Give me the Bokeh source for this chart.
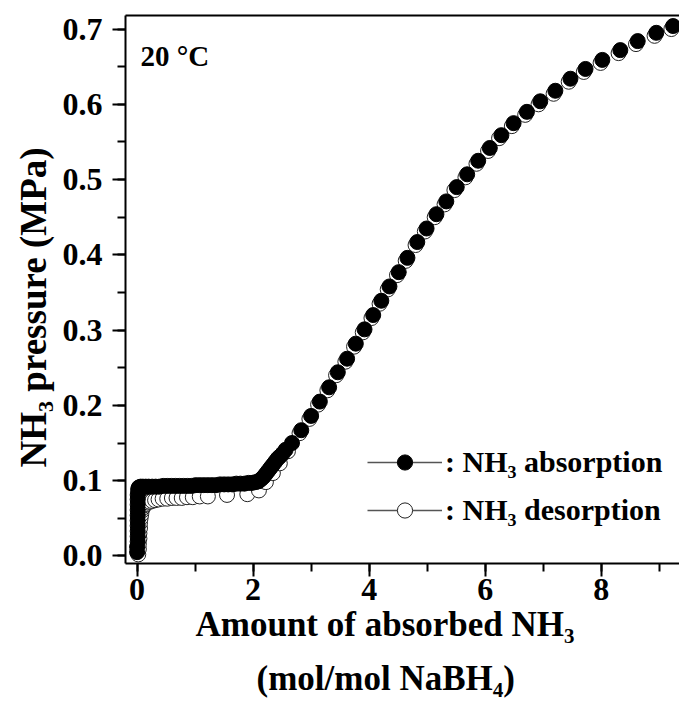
from bokeh.plotting import figure
from bokeh.models import (Range1d, LinearAxis, SingleIntervalTicker, FixedTicker,
                          PrintfTickFormatter, Label, Legend, LegendItem, Title)
from bokeh.embed import file_html
from bokeh.resources import INLINE

# ---------------- data ----------------
abs_x = [0.00, 0.00, 0.01, 0.01, 0.01, 0.01, 0.01, 0.01, 0.01, 0.01, 0.01, 0.01, 0.02, 0.02, 0.03,
         0.06, 0.10, 0.15, 0.20, 0.26, 0.32, 0.38, 0.45, 0.52, 0.59,
         0.66, 0.73, 0.80, 0.87, 0.94, 1.01, 1.08, 1.15, 1.22, 1.29,
         1.36, 1.43, 1.50, 1.57, 1.64, 1.71, 1.78, 1.85, 1.92, 1.98, 2.04, 2.09,
         2.14, 2.18, 2.22, 2.26, 2.30, 2.34, 2.38, 2.42, 2.46, 2.51, 2.56,
         2.67, 2.83, 3.00, 3.15, 3.31, 3.46, 3.62, 3.77, 3.92, 4.07,
         4.21, 4.35, 4.51, 4.66, 4.83, 4.99, 5.16, 5.33, 5.51, 5.69,
         5.88, 6.08, 6.28, 6.49, 6.72, 6.95, 7.21, 7.47, 7.73, 8.02,
         8.33, 8.63, 8.95, 9.24]
abs_y = [0.005, 0.012, 0.019, 0.026, 0.033, 0.040, 0.047, 0.054, 0.061, 0.068, 0.075, 0.081, 0.086, 0.089, 0.091,
         0.092, 0.092, 0.092, 0.092, 0.092, 0.092, 0.092, 0.093, 0.093, 0.093,
         0.093, 0.093, 0.093, 0.093, 0.093, 0.094, 0.094, 0.094, 0.094, 0.094,
         0.094, 0.095, 0.095, 0.095, 0.095, 0.096, 0.096, 0.096, 0.097, 0.097, 0.098, 0.099,
         0.102, 0.105, 0.109, 0.113, 0.117, 0.121, 0.125, 0.129, 0.132, 0.136, 0.141,
         0.150, 0.167, 0.186, 0.205, 0.224, 0.244, 0.262, 0.282, 0.301, 0.320,
         0.339, 0.358, 0.377, 0.396, 0.417, 0.435, 0.454, 0.471, 0.490, 0.507,
         0.525, 0.542, 0.559, 0.575, 0.590, 0.604, 0.618, 0.634, 0.647, 0.659,
         0.672, 0.684, 0.695, 0.704]

des_x = [0.02, 0.03, 0.03, 0.04, 0.04, 0.05, 0.05, 0.06, 0.07, 0.08,
         0.10, 0.12, 0.15, 0.18, 0.22, 0.26, 0.31, 0.37, 0.44, 0.52,
         0.60, 0.68, 0.77, 0.86, 0.96, 1.08, 1.22, 1.55, 1.90, 2.10,
         2.22, 2.34, 2.46, 2.60,
         2.80, 2.97, 3.12, 3.28, 3.43, 3.59, 3.74, 3.89, 4.04, 4.18,
         4.32, 4.48, 4.63, 4.80, 4.96, 5.13, 5.30, 5.47, 5.66, 5.85,
         6.05, 6.24, 6.46, 6.69, 6.92, 7.18, 7.44, 7.70, 7.99, 8.30,
         8.60, 8.92, 9.21]
des_y = [0.002, 0.009, 0.016, 0.023, 0.030, 0.037, 0.044, 0.050, 0.055, 0.060,
         0.064, 0.067, 0.069, 0.071, 0.072, 0.073, 0.074, 0.075, 0.076, 0.076,
         0.077, 0.077, 0.077, 0.078, 0.078, 0.079, 0.079, 0.081, 0.082, 0.087,
         0.098, 0.110, 0.123, 0.139,
         0.163, 0.182, 0.201, 0.220, 0.240, 0.258, 0.278, 0.297, 0.316, 0.335,
         0.354, 0.373, 0.392, 0.413, 0.431, 0.450, 0.467, 0.486, 0.503, 0.521,
         0.538, 0.555, 0.571, 0.586, 0.600, 0.614, 0.630, 0.643, 0.655, 0.668,
         0.680, 0.691, 0.700]

series_labels = [": NH\u2083 absorption", ": NH\u2083 desorption"]
temperature_label = "20 \u00b0C"
x_title_1 = "Amount of absorbed NH\u2083"
x_title_2 = "(mol/mol NaBH\u2084)"
y_title = "NH\u2083 pressure (MPa)"

# ---------------- layout ----------------
W, H = 679, 703
FL, FR, FT, FB = 125, 679, 15, 563
XR = (-0.2, 9.35)
YR = (-0.0101, 0.718)
FONT = "Liberation Serif"


def at_x(px):
    return XR[0] + (px - FL) * (XR[1] - XR[0]) / (FR - FL)


def at_y(py):
    return YR[1] - (py - FT) * (YR[1] - YR[0]) / (FB - FT)


p = figure(width=W, height=H, x_range=Range1d(*XR), y_range=Range1d(*YR),
           output_backend="svg", toolbar_location=None,
           min_border_left=FL, min_border_right=W - FR,
           min_border_top=FT, min_border_bottom=H - FB)
p.outline_line_color = None
p.xgrid.visible = False
p.ygrid.visible = False
p.background_fill_color = "white"
p.border_fill_color = "white"

p.xaxis.ticker = SingleIntervalTicker(interval=2, num_minor_ticks=2)
p.yaxis.ticker = SingleIntervalTicker(interval=0.1, num_minor_ticks=2)
p.yaxis.formatter = PrintfTickFormatter(format="%.1f")

for ax in (p.xaxis[0], p.yaxis[0]):
    ax.axis_line_width = 2
    ax.axis_line_color = "black"
    ax.major_tick_line_width = 2
    ax.minor_tick_line_width = 2
    ax.major_tick_line_color = "black"
    ax.minor_tick_line_color = "black"
    ax.major_tick_out = 13
    ax.major_tick_in = 0
    ax.minor_tick_out = 8
    ax.minor_tick_in = 0
    ax.major_label_text_font = FONT
    ax.major_label_text_font_style = "bold"
    ax.major_label_text_font_size = "32px"
    ax.major_label_text_color = "black"
p.yaxis[0].major_label_standoff = 10
p.xaxis[0].major_label_standoff = 2

top = LinearAxis(ticker=FixedTicker(ticks=[]), major_label_text_font_size="0px",
                 major_tick_line_color=None, minor_tick_line_color=None,
                 axis_line_width=2, axis_line_color="black")
p.add_layout(top, "above")

# ---------------- axis titles (as side-panel titles) ----------------
def side_title(text, side, offset, size, standoff):
    t = Title(text=text, align="left", offset=offset, standoff=standoff,
              text_font=FONT, text_font_style="bold", text_font_size=f"{size}px",
              text_color="black")
    p.add_layout(t, side)

side_title(x_title_1, "below", 70, 35, 0)
side_title(" ", "below", 0, 10, 0)          # blank gap between the two lines
side_title(x_title_2, "below", 131, 35, 0)
side_title(y_title, "left", 96, 37, 11)

# ---------------- data marks ----------------
r_des = p.scatter(des_x, des_y, size=15, marker="circle", fill_color="white",
                  line_color="#222222", line_width=1)
r_abs = p.scatter(abs_x, abs_y, size=15, marker="circle", fill_color="black",
                  line_color="black", line_width=1)

# legend (line through marker); the lines hold no drawable point
nan = float("nan")
l_abs = p.line([nan, nan], [nan, nan], line_color="#555555", line_width=1.5)
l_des = p.line([nan, nan], [nan, nan], line_color="#555555", line_width=1.5)
legend = Legend(items=[LegendItem(label=series_labels[0], renderers=[l_abs, r_abs]),
                       LegendItem(label=series_labels[1], renderers=[l_des, r_des])],
                location=(242, 34), glyph_width=75, glyph_height=38, label_standoff=3,
                spacing=10, padding=0, margin=0, border_line_color=None,
                background_fill_alpha=0, label_text_font=FONT,
                label_text_font_style="bold", label_text_font_size="30px",
                label_text_color="black")
p.add_layout(legend)

p.add_layout(Label(x=at_x(140), y=at_y(55), text=temperature_label, text_font=FONT,
                   text_font_style="bold", text_font_size="29px", text_color="black",
                   text_align="left", text_baseline="alphabetic"))

open("out.html", "w").write(file_html(p, INLINE))
